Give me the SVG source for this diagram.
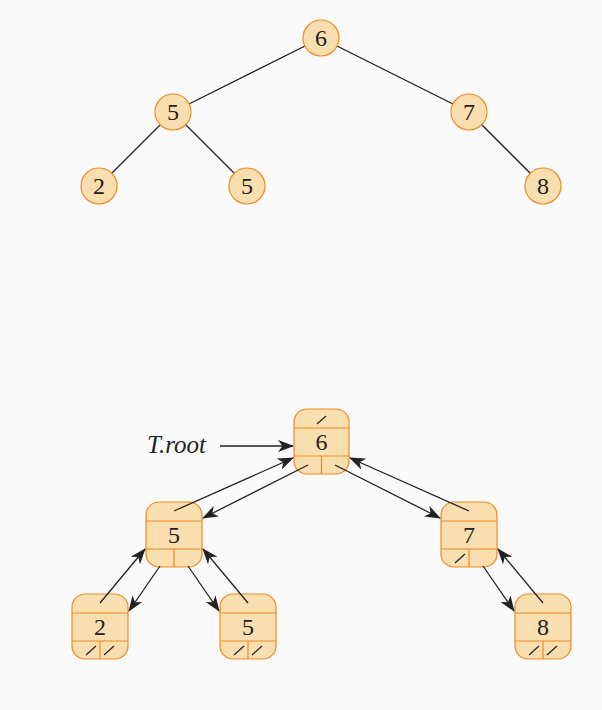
<svg xmlns="http://www.w3.org/2000/svg" width="602" height="710" viewBox="0 0 602 710">
<defs>
<style>
.c{fill:#f9deaf;stroke:#f08a24;stroke-width:1.2}
.b{fill:#f9deaf;stroke:#f08a24;stroke-width:1.2}
.d{stroke:#f08a24;stroke-width:1.2;fill:none}
.t{font-family:"Liberation Serif",serif;font-size:24px;fill:#222;text-anchor:middle}
.e{stroke:#222;stroke-width:1.3;fill:none}
.s{stroke:#222;stroke-width:1.2}
.a{stroke:#222;stroke-width:1.3;fill:none;marker-end:url(#ah)}
</style>
<marker id="ah" markerWidth="16" markerHeight="12" refX="15" refY="6" orient="auto" markerUnits="userSpaceOnUse">
<path d="M0,0 L16,6 L0,12 L4.5,6 z" fill="#222"/>
</marker>
</defs>
<rect width="602" height="710" fill="#fafafa"/>
<g id="edges-top">
<line class="e" x1="321" y1="38" x2="173" y2="112"/>
<line class="e" x1="321" y1="38" x2="469" y2="112"/>
<line class="e" x1="173" y1="112" x2="99" y2="186"/>
<line class="e" x1="173" y1="112" x2="247" y2="186"/>
<line class="e" x1="469" y1="112" x2="543" y2="186"/>
</g>
<g id="t6"><circle class="c" cx="321" cy="38" r="18"/><text class="t" x="321" y="46">6</text></g>
<g id="t5a"><circle class="c" cx="173" cy="112" r="18"/><text class="t" x="173" y="120">5</text></g>
<g id="t7"><circle class="c" cx="469" cy="112" r="18"/><text class="t" x="469" y="120">7</text></g>
<g id="t2"><circle class="c" cx="99" cy="186" r="18"/><text class="t" x="99" y="194">2</text></g>
<g id="t5b"><circle class="c" cx="247" cy="186" r="18"/><text class="t" x="247" y="194">5</text></g>
<g id="t8"><circle class="c" cx="543" cy="186" r="18"/><text class="t" x="543" y="194">8</text></g>

<g id="b6">
<rect class="b" x="294" y="409" width="55" height="65" rx="13"/>
<line class="d" x1="294" y1="428" x2="349" y2="428"/>
<line class="d" x1="294" y1="456" x2="349" y2="456"/>
<line class="d" x1="321.5" y1="456" x2="321.5" y2="474"/>
<text class="t" x="321.5" y="450">6</text>
<line class="s" x1="317" y1="424" x2="326" y2="416"/>
</g>
<g id="b5a">
<rect class="b" x="146" y="502" width="56" height="65" rx="13"/>
<line class="d" x1="146" y1="521" x2="202" y2="521"/>
<line class="d" x1="146" y1="549" x2="202" y2="549"/>
<line class="d" x1="174" y1="549" x2="174" y2="567"/>
<text class="t" x="174" y="543">5</text>
</g>
<g id="b7">
<rect class="b" x="441" y="502" width="56" height="65" rx="13"/>
<line class="d" x1="441" y1="521" x2="497" y2="521"/>
<line class="d" x1="441" y1="549" x2="497" y2="549"/>
<line class="d" x1="469" y1="549" x2="469" y2="567"/>
<text class="t" x="469" y="543">7</text>
<line class="s" x1="455" y1="563" x2="465" y2="554"/>
</g>
<g id="b2">
<rect class="b" x="72" y="594" width="56" height="65" rx="13"/>
<line class="d" x1="72" y1="613" x2="128" y2="613"/>
<line class="d" x1="72" y1="641" x2="128" y2="641"/>
<line class="d" x1="100" y1="641" x2="100" y2="659"/>
<text class="t" x="100" y="635">2</text>
<line class="s" x1="86" y1="655" x2="96" y2="646"/>
<line class="s" x1="104" y1="655" x2="114" y2="646"/>
</g>
<g id="b5b">
<rect class="b" x="220" y="594" width="56" height="65" rx="13"/>
<line class="d" x1="220" y1="613" x2="276" y2="613"/>
<line class="d" x1="220" y1="641" x2="276" y2="641"/>
<line class="d" x1="248" y1="641" x2="248" y2="659"/>
<text class="t" x="248" y="635">5</text>
<line class="s" x1="234" y1="655" x2="244" y2="646"/>
<line class="s" x1="252" y1="655" x2="262" y2="646"/>
</g>
<g id="b8">
<rect class="b" x="515" y="594" width="56" height="65" rx="13"/>
<line class="d" x1="515" y1="613" x2="571" y2="613"/>
<line class="d" x1="515" y1="641" x2="571" y2="641"/>
<line class="d" x1="543" y1="641" x2="543" y2="659"/>
<text class="t" x="543" y="635">8</text>
<line class="s" x1="529" y1="655" x2="539" y2="646"/>
<line class="s" x1="547" y1="655" x2="557" y2="646"/>
</g>

<g id="label">
<text x="147" y="453" style="font-family:'Liberation Serif',serif;font-size:25px;font-style:italic;fill:#222">T.root</text>
</g>

<g id="connectors">
<line class="a" x1="220" y1="446" x2="293" y2="446"/>
<line class="a" x1="174" y1="511" x2="293" y2="458"/>
<line class="a" x1="308" y1="465" x2="203" y2="518"/>
<line class="a" x1="335" y1="465" x2="440" y2="518"/>
<line class="a" x1="469" y1="511" x2="350" y2="458"/>
<line class="a" x1="160" y1="566" x2="129" y2="611"/>
<line class="a" x1="100" y1="603" x2="145" y2="549"/>
<line class="a" x1="188" y1="566" x2="219" y2="611"/>
<line class="a" x1="248" y1="603" x2="203" y2="549"/>
<line class="a" x1="483" y1="566" x2="514" y2="611"/>
<line class="a" x1="543" y1="603" x2="498" y2="549"/>
</g>
</svg>
